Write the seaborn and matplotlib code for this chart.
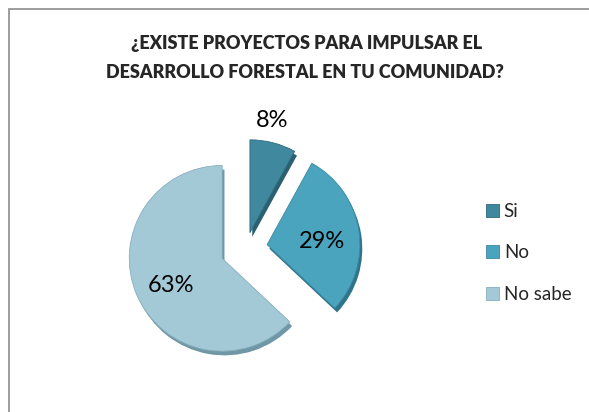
import matplotlib
matplotlib.use("Agg")
import matplotlib.pyplot as plt
import seaborn as sns
from matplotlib.patches import Rectangle
import matplotlib.transforms as mtransforms
import numpy as np

# ---- data ----
categories = ["Si", "No", "No sabe"]
values = [8, 29, 63]
title_lines = ["¿EXISTE PROYECTOS PARA IMPULSAR EL", "DESARROLLO FORESTAL EN TU COMUNIDAD?"]

# ---- style ----
colors = ["#3F889E", "#4AA4BE", "#A4C9D6"]
edge_colors = ["#2F6A7C", "#3A88A0", "#86AEBD"]
depth_colors = ["#2A6072", "#2F7389", "#6F97A6"]
explode = [0.17, 0.23, 0.28]

sns.set_theme(style="white")
plt.rcParams["font.family"] = ["Lato", "DejaVu Sans"]

fig = plt.figure(figsize=(5.89, 4.12), dpi=100)
fig.patch.set_facecolor("white")

# border (partially cropped frame)
fig.patches.append(Rectangle((9 / 589, -0.1), 1.2, (412 - 9) / 412 + 0.1,
                             transform=fig.transFigure, fill=False,
                             edgecolor="#8C8C8C", linewidth=1.2))

ax = fig.add_axes([116 / 589, 34 / 412, 260 / 589, 260 / 412])

# depth layer
ax.pie(values, colors=depth_colors, startangle=90, counterclock=False,
       explode=explode, radius=1.0, center=(0.025, -0.045),
       wedgeprops=dict(linewidth=0))

wedges, texts, autotexts = ax.pie(
    values, colors=colors, startangle=90, counterclock=False,
    explode=explode, radius=1.0, autopct=lambda p: f"{p:.0f}%",
    pctdistance=0.6,
    wedgeprops=dict(linewidth=0.0),
    textprops=dict(fontsize=17, color="black"))

for w, ec in zip(wedges, edge_colors):
    w.set_edgecolor(ec)
    w.set_linewidth(0.6)

ax.set_xlim(-1.4, 1.4)
ax.set_ylim(-1.4, 1.4)
ax.set_aspect("equal")
ax.axis("off")

# Si label placed outside its slice
w0 = wedges[0]
ang = np.deg2rad((w0.theta1 + w0.theta2) / 2)
cx, cy = w0.center
autotexts[0].set_position((cx + 1.25 * np.cos(ang), cy + 1.25 * np.sin(ang)))

# small pixel nudges to match the tilted 3D look of the original
nudges = [(-7, 0), (0, -6), (0, -5)]
for t, (dx, dy) in zip(autotexts, nudges):
    t.set_transform(t.get_transform() +
                    mtransforms.ScaledTranslation(dx / 100, dy / 100, fig.dpi_scale_trans))

fig.text(307 / 589, 1 - 44 / 412, title_lines[0], ha="center", va="center",
         fontsize=13, fontweight="heavy")
fig.text(305 / 589, 1 - 72 / 412, title_lines[1], ha="center", va="center",
         fontsize=13, fontweight="heavy")

leg = fig.legend(wedges, categories, loc="upper left",
                 bbox_to_anchor=(486 / 589, 1 - 203 / 412),
                 frameon=False, fontsize=13.5, handlelength=0.7,
                 handleheight=0.7, handletextpad=0.25, labelspacing=1.3,
                 borderaxespad=0, borderpad=0)

fig.savefig("out.png", dpi=100, facecolor="white")
